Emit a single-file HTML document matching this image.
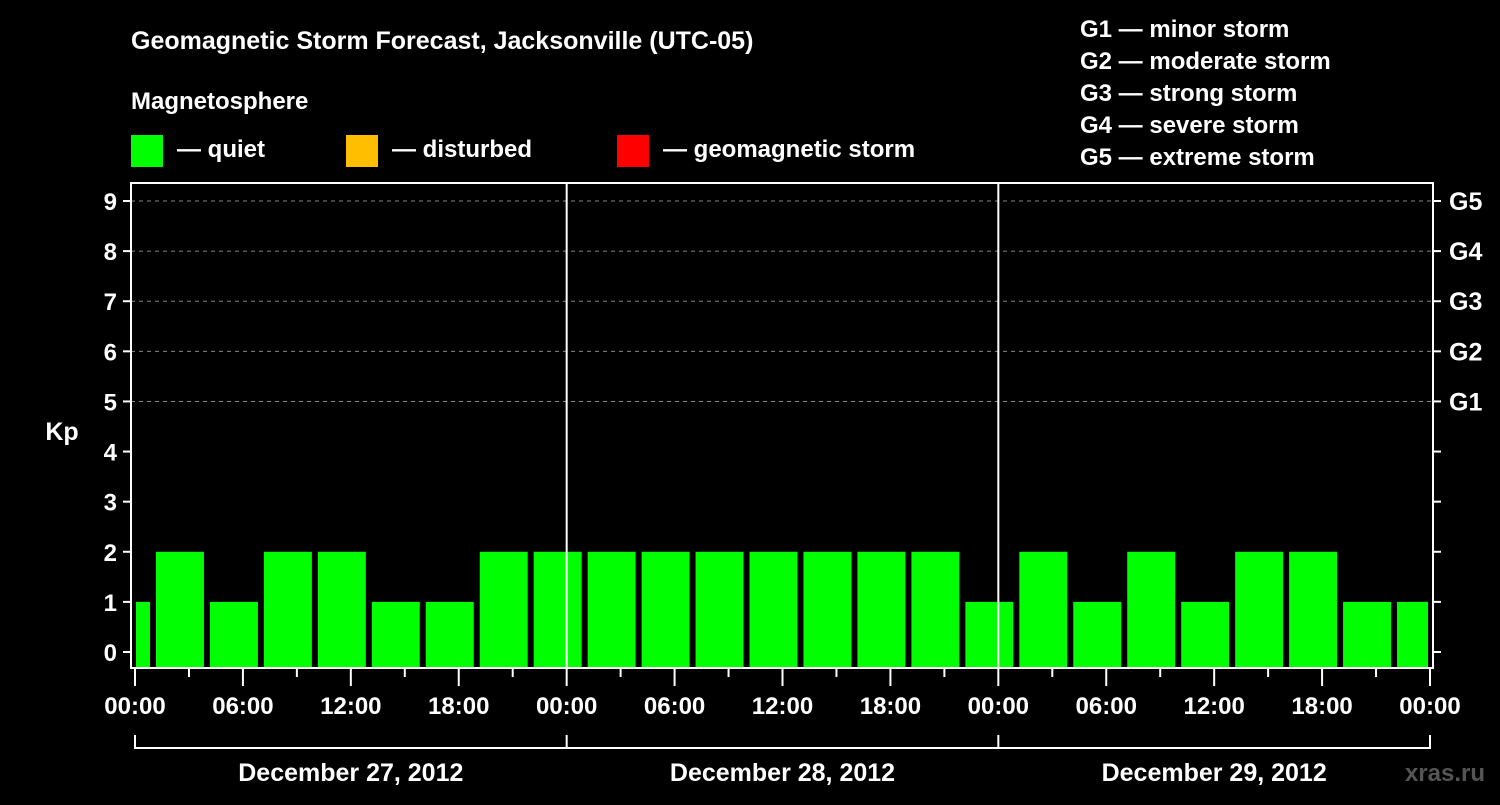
<!DOCTYPE html>
<html><head><meta charset="utf-8"><style>
body{margin:0;background:#000;width:1500px;height:800px;overflow:hidden}
svg text{font-family:"Liberation Sans",Arial,sans-serif;font-weight:bold;fill:#fff}
</style></head><body>
<svg id="chart" width="1500" height="800">
<rect width="1500" height="800" fill="#000"/>
<text x="131" y="49" font-size="25">Geomagnetic Storm Forecast, Jacksonville (UTC-05)</text>
<text x="131" y="109" font-size="24">Magnetosphere</text>
<rect x="131" y="135" width="32" height="32" fill="#00ff00"/>
<text x="177" y="157" font-size="24">— quiet</text>
<rect x="346" y="135" width="32" height="32" fill="#ffbf00"/>
<text x="392" y="157" font-size="24">— disturbed</text>
<rect x="617" y="135" width="32" height="32" fill="#ff0000"/>
<text x="663" y="157" font-size="24">— geomagnetic storm</text>
<g font-size="24">
<text x="1080" y="37">G1 — minor storm</text>
<text x="1080" y="69">G2 — moderate storm</text>
<text x="1080" y="101">G3 — strong storm</text>
<text x="1080" y="133">G4 — severe storm</text>
<text x="1080" y="165">G5 — extreme storm</text>
</g>
<text x="62" y="440" font-size="25" text-anchor="middle">Kp</text>
<text x="1485" y="781" font-size="24" text-anchor="end" fill="#555" style="fill:#555">xras.ru</text>
<g id="plot"></g>
</svg>
<script>
const kpValues=[1,2,1,2,2,1,1,2,2,2,2,2,2,2,2,2,1,2,1,2,1,2,2,1,1];
const firstBarStartHour=-2;
const yTicks=[0,1,2,3,4,5,6,7,8,9];
const gLabels=["G1","G2","G3","G4","G5"];
const xTickLabels=["00:00","06:00","12:00","18:00","00:00","06:00","12:00","18:00","00:00","06:00","12:00","18:00","00:00"];
const dayLabels=["December 27, 2012","December 28, 2012","December 29, 2012"];
const NS="http://www.w3.org/2000/svg";
const L=131,R=1433,T=183,B=668;
const x=h=>135+h*(1430-135)/72;
const y=v=>652-v*(652-201)/9;
const g=document.getElementById('plot');
function mk(tag,a,txt){const e=document.createElementNS(NS,tag);for(const k in a)e.setAttribute(k,a[k]);if(txt!=null)e.textContent=txt;g.appendChild(e);return e;}
// grid
for(let v=5;v<=9;v++){const e=mk('line',{x1:L,x2:R,y1:y(v),y2:y(v),stroke:'#888','stroke-dasharray':'4,4','stroke-width':1});

}
// bars
kpValues.forEach((v,i)=>{let s=x(firstBarStartHour+i*3)+3,e2=x(firstBarStartHour+i*3+3)-3;
s=Math.max(s,x(0)+1);e2=Math.min(e2,x(72)-2);
const r=mk('rect',{x:s,y:y(v),width:e2-s,height:B-y(v),fill:v>=5?'#ff0000':(v>=4?'#ffbf00':'#00ff00')});

});
// day separators
[24,48].forEach(h=>{const e=mk('line',{x1:x(h),x2:x(h),y1:T,y2:B,stroke:'#fff','stroke-width':2});

});
// frame
const f=mk('rect',{x:L,y:T,width:R-L,height:B-T,fill:'none',stroke:'#fff','stroke-width':2});


// y ticks
yTicks.forEach(v=>{mk('line',{x1:L-8,x2:L,y1:y(v),y2:y(v),stroke:'#fff','stroke-width':2});
mk('line',{x1:R,x2:R+8,y1:y(v),y2:y(v),stroke:'#fff','stroke-width':2});
const t=mk('text',{x:117,y:y(v)+9,'font-size':24,'text-anchor':'end'},String(v));

});
gLabels.forEach((s,i)=>{const t=mk('text',{x:1449,y:y(5+i)+9,'font-size':25},s);

});
// x ticks
for(let h=0;h<=72;h+=3){const major=h%6===0;mk('line',{x1:x(h),x2:x(h),y1:B,y2:B+(major?18:9),stroke:'#fff','stroke-width':2});}
xTickLabels.forEach((s,i)=>{const t=mk('text',{x:x(i*6),y:714,'font-size':24,'text-anchor':'middle'},s);

});
// day brackets
mk('line',{x1:x(0),x2:x(72),y1:748,y2:748,stroke:'#fff','stroke-width':2});
[0,24,48,72].forEach(h=>mk('line',{x1:x(h),x2:x(h),y1:735,y2:749,stroke:'#fff','stroke-width':2}));
dayLabels.forEach((s,i)=>{const t=mk('text',{x:x(i*24+12),y:781,'font-size':25,'text-anchor':'middle'},s);

});
</script>
</body></html>
